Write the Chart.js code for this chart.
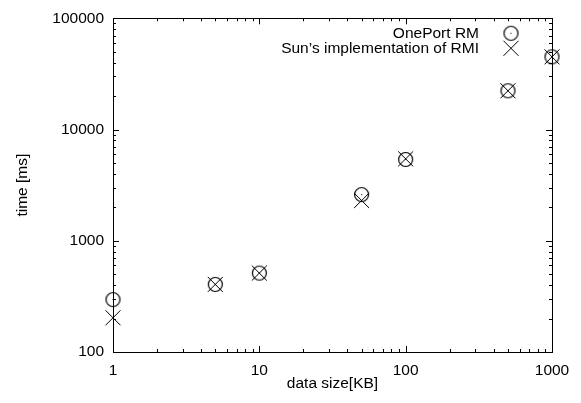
<!DOCTYPE html>
<html>
<head>
<meta charset="utf-8">
<script src="https://cdn.jsdelivr.net/npm/chart.js@4/dist/chart.umd.min.js"></script>
<style>
  html, body { margin: 0; padding: 0; background: #fff; }
  #wrap { width: 581px; height: 403px; }
</style>
</head>
<body>
<div id="wrap"><canvas id="chart" width="581" height="403"></canvas></div>
<script>
const dataSizes = [1, 5, 10, 50, 100, 500, 1000];
const onePortTimes = [296, 405, 512, 2600, 5380, 22300, 45000];
const sunRmiTimes = [203, 405, 512, 2300, 5450, 22300, 45000];
const seriesNames = ["OnePort RM", "Sun\u2019s implementation of RMI"];

const FONT_FAMILY = '"Liberation Sans", Arial, sans-serif';
const FONT = '15.5px ' + FONT_FAMILY;

// circle with a dot in the middle, gnuplot style
const dotCircle = document.createElement("canvas");
dotCircle.width = 17;
dotCircle.height = 17;
(function () {
    const c = dotCircle.getContext("2d");
    c.strokeStyle = "#000";
    c.lineWidth = 1.2;
    c.beginPath();
    c.arc(8.5, 8.5, 7, 0, Math.PI * 2);
    c.stroke();
    c.fillStyle = "#000";
    c.fillRect(8, 8, 1, 1);
})();

function drawCross(ctx, x, y, h) {
    ctx.beginPath();
    ctx.moveTo(x - h, y - h);
    ctx.lineTo(x + h, y + h);
    ctx.moveTo(x - h, y + h);
    ctx.lineTo(x + h, y - h);
    ctx.stroke();
}

// ticks at 1..9 of every decade
function decadeTicks(scale) {
    const ticks = [];
    for (let p = Math.pow(10, Math.floor(Math.log10(scale.min))); p <= scale.max; p *= 10) {
        for (let d = 1; d <= 9; d++) {
            const v = d * p;
            if (v >= scale.min && v <= scale.max) ticks.push({ value: v, major: d === 1 });
        }
    }
    scale.ticks = ticks;
}

function powerLabel(value) {
    const l = Math.log10(value);
    return Math.abs(l - Math.round(l)) < 1e-9 ? String(Math.round(value)) : "";
}

// frame, inward ticks on all four sides and the gnuplot-like key
const framePlugin = {
    id: "frame",
    beforeDatasetsDraw(chart) {
        const ctx = chart.ctx;
        const a = chart.chartArea;
        const xs = chart.scales.x;
        const ys = chart.scales.y;
        ctx.save();
        ctx.strokeStyle = "#000";
        ctx.lineWidth = 1;
        ctx.strokeRect(Math.round(a.left) + 0.5, Math.round(a.top) + 0.5,
            Math.round(a.right - a.left), Math.round(a.bottom - a.top));

        ctx.beginPath();
        xs.ticks.forEach(t => {
            const px = Math.round(xs.getPixelForValue(t.value)) + 0.5;
            const len = t.major ? 6 : 3;
            ctx.moveTo(px, a.bottom);
            ctx.lineTo(px, a.bottom - len);
            ctx.moveTo(px, a.top);
            ctx.lineTo(px, a.top + len);
        });
        ys.ticks.forEach(t => {
            const py = Math.round(ys.getPixelForValue(t.value)) + 0.5;
            const len = t.major ? 6 : 3;
            ctx.moveTo(a.left, py);
            ctx.lineTo(a.left + len, py);
            ctx.moveTo(a.right, py);
            ctx.lineTo(a.right - len, py);
        });
        ctx.stroke();

        // key
        ctx.font = FONT;
        ctx.fillStyle = "#000";
        ctx.textAlign = "right";
        ctx.textBaseline = "middle";
        const textX = a.right - 73;
        const markX = a.right - 41;
        const row0 = a.top + 15;
        const row1 = a.top + 30;
        ctx.fillText(seriesNames[0], textX, row0);
        ctx.fillText(seriesNames[1], textX, row1);
        ctx.drawImage(dotCircle, markX - 8.5, row0 - 8.5);
        drawCross(ctx, markX, row1, 7.5);
        ctx.restore();
    }
};

const toPoints = ys => dataSizes.map((x, i) => ({ x, y: ys[i] }));

new Chart(document.getElementById("chart"), {
    type: "scatter",
    data: {
        datasets: [
            {
                label: seriesNames[0],
                data: toPoints(onePortTimes),
                pointStyle: dotCircle,
                pointRadius: 8,
                pointHoverRadius: 8,
                clip: false
            },
            {
                label: seriesNames[1],
                data: toPoints(sunRmiTimes),
                pointStyle: "crossRot",
                pointRadius: 10.6,
                pointHoverRadius: 10.6,
                borderColor: "#000",
                backgroundColor: "#000",
                pointBorderWidth: 1,
                clip: false
            }
        ]
    },
    options: {
        responsive: false,
        animation: false,
        events: [],
        layout: { padding: { left: 0, right: 29, top: 16, bottom: 0 } },
        plugins: {
            legend: { display: false },
            tooltip: { enabled: false }
        },
        scales: {
            x: {
                type: "logarithmic",
                min: 1,
                max: 1000,
                afterBuildTicks: decadeTicks,
                afterFit: s => { s.height = 51; },
                grid: { display: false, drawTicks: false },
                border: { display: false },
                ticks: {
                    autoSkip: false,
                    maxRotation: 0,
                    padding: 9,
                    color: "#000",
                    font: { family: FONT_FAMILY, size: 15.5 },
                    callback: powerLabel
                },
                title: {
                    display: true,
                    text: "data size[KB]",
                    color: "#000",
                    padding: { top: 1, bottom: 10 },
                    font: { family: FONT_FAMILY, size: 15.5 }
                }
            },
            y: {
                type: "logarithmic",
                min: 100,
                max: 100000,
                afterBuildTicks: decadeTicks,
                afterFit: s => { s.width = 113; },
                grid: { display: false, drawTicks: false },
                border: { display: false },
                ticks: {
                    autoSkip: false,
                    padding: 9,
                    color: "#000",
                    font: { family: FONT_FAMILY, size: 15.5 },
                    callback: powerLabel
                },
                title: {
                    display: true,
                    text: "time [ms]",
                    color: "#000",
                    padding: { top: 13, bottom: 0 },
                    font: { family: FONT_FAMILY, size: 15.5 }
                }
            }
        }
    },
    plugins: [framePlugin]
});
</script>
</body>
</html>
